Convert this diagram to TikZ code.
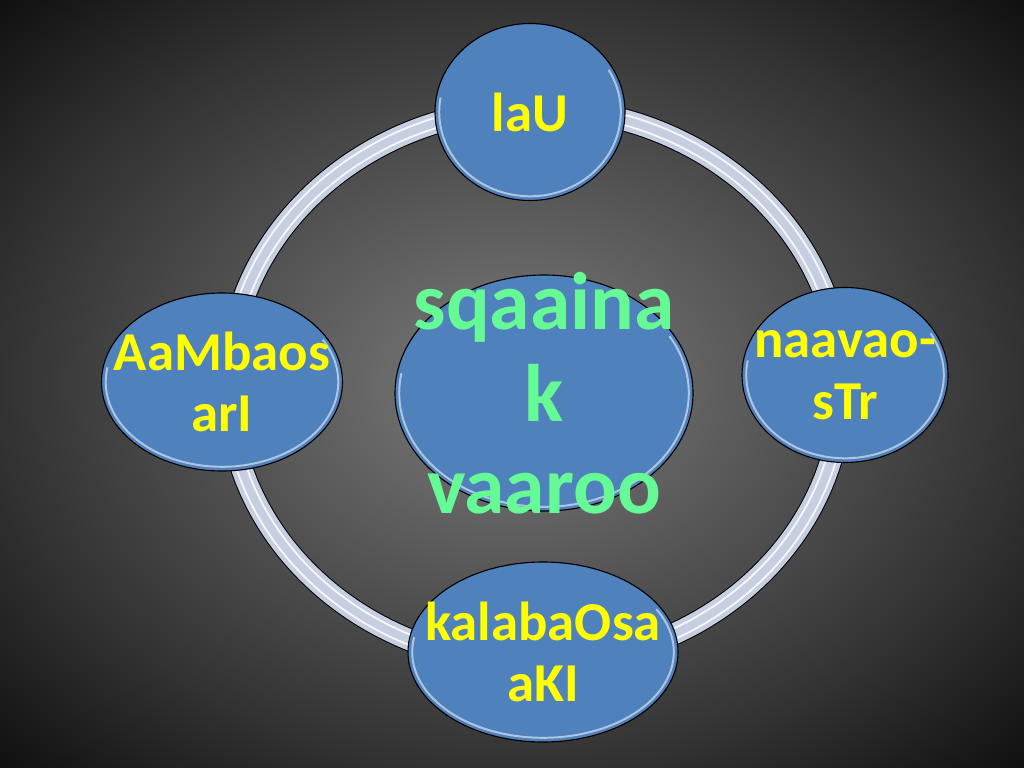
\documentclass[tikz,border=0pt]{standalone}
\usepackage{fontspec}
\setmainfont{Carlito}
\usetikzlibrary{shapes.geometric,calc}
\definecolor{nodeblue}{RGB}{79,129,189}
\definecolor{ringblue}{RGB}{198,207,226}
\definecolor{labelyellow}{RGB}{255,255,0}
\definecolor{hubgreen}{RGB}{102,250,150}
\definecolor{bgmid}{RGB}{124,124,124}
\definecolor{bgedge}{RGB}{50,50,50}
\definecolor{bgcorner}{RGB}{16,16,16}
\pgfdeclareradialshading{slidebg}{\pgfpoint{0bp}{0bp}}{color(0bp)=(bgmid); color(25bp)=(bgedge); color(35.4bp)=(bgcorner); color(50bp)=(bgcorner)}
\newcommand\pxu{0.025cm}

\tikzset{
  cycball/.style={ellipse, draw=black, line width=0.8pt, fill=nodeblue,
    inner sep=-300pt, align=center, text=labelyellow,
    font=\fontsize{39}{44}\selectfont\bfseries,
    path picture={
      \draw[white, opacity=.55, line width=1.4pt]
        let \p0=(path picture bounding box.center),
            \p1=(path picture bounding box.north east) in
        (\p0) ++(30:{\x1-\x0-3pt} and {\y1-\y0-3pt})
        arc [start angle=30, end angle=-190,
             x radius=\x1-\x0-3pt, y radius=\y1-\y0-3pt];
    }},
  hubball/.style={text=hubgreen, font=\fontsize{58}{65.5}\selectfont\bfseries},
  ringline/.style={line width=#1*\pxu},
}

\begin{document}
\begin{tikzpicture}[x=\pxu, y=-\pxu]
\useasboundingbox (0,0) rectangle (1024,768);
\shade[shading=slidebg] (0,0) rectangle (1024,768);

% the ring behind the circles
\coordinate (cyclecentre) at (535,386);
\draw[black, ringline=23] (cyclecentre) ellipse [x radius=307, y radius=278];
\draw[ringblue, ringline=21] (cyclecentre) ellipse [x radius=307, y radius=278];
\draw[white, opacity=.85, ringline=1.8] (cyclecentre) ellipse [x radius=302, y radius=273];
\draw[white, opacity=.85, ringline=1.8] (cyclecentre) ellipse [x radius=312, y radius=283];

% circles
\node[cycball, minimum width=190*\pxu, minimum height=177*\pxu] (lau) at (530,112) {laU};
\node[cycball, minimum width=206*\pxu, minimum height=175*\pxu] (naavaostr) at (845,375) {naavao-\\sTr};
\node[cycball, minimum width=270*\pxu, minimum height=180*\pxu] (kalabaosaaki) at (543,652) {kalabaOsa\\aKI};
\node[cycball, minimum width=241*\pxu, minimum height=178*\pxu] (aambaosari) at (222,382) {AaMbaos\\arI};
\node[cycball, hubball, minimum width=298*\pxu, minimum height=236*\pxu] (hub) at (544,393) {sqaaina\\k\\vaaroo};
\end{tikzpicture}
\end{document}
